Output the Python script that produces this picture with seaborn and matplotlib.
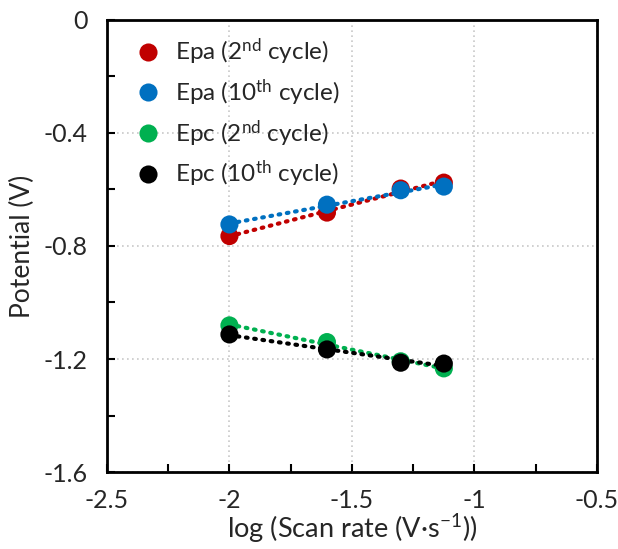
import numpy as np
import pandas as pd
import seaborn as sns
import matplotlib.pyplot as plt

sns.set_theme(style='white')
plt.rcParams['font.family'] = ['Lato', 'DejaVu Sans']
plt.rcParams['mathtext.fontset'] = 'custom'
plt.rcParams['mathtext.rm'] = 'Lato'
plt.rcParams['mathtext.it'] = 'Lato'
plt.rcParams['mathtext.default'] = 'rm'

# log(scan rate) and peak potentials
log_rate = [-2.0, -1.602, -1.301, -1.125]
epa_2nd = [-0.765, -0.682, -0.597, -0.576]
epa_10th = [-0.724, -0.654, -0.603, -0.590]
epc_2nd = [-1.081, -1.140, -1.208, -1.233]
epc_10th = [-1.113, -1.166, -1.213, -1.216]

labels = ['Epa (2$^{nd}$ cycle)', 'Epa (10$^{th}$ cycle)',
          'Epc (2$^{nd}$ cycle)', 'Epc (10$^{th}$ cycle)']
colors = ['#C00000', '#0070C0', '#00B050', '#000000']

df = pd.concat([
    pd.DataFrame({'x': log_rate, 'y': ys, 'series': lab})
    for ys, lab in zip([epa_2nd, epa_10th, epc_2nd, epc_10th], labels)
])

fig = plt.figure(figsize=(6.18, 5.49), dpi=100)
ax = fig.add_axes([0.173, 0.140, 0.793, 0.824])

# dotted linear trend lines
for lab, col in zip(labels, colors):
    sub = df[df.series == lab]
    sns.regplot(data=sub, x='x', y='y', ax=ax, scatter=False, ci=None,
                truncate=True, color=col,
                line_kws=dict(linestyle=(0, (0.4, 1.6)), linewidth=3,
                              dash_capstyle='round'))

sns.scatterplot(data=df, x='x', y='y', hue='series', palette=colors,
                hue_order=labels, s=170, edgecolor='none', ax=ax, zorder=3)

ax.set_xlim(-2.5, -0.5)
ax.set_ylim(-1.6, 0)
ax.set_xticks([-2.5, -2, -1.5, -1, -0.5])
ax.set_xticklabels(['-2.5', '-2', '-1.5', '-1', '-0.5'])
ax.set_yticks([0, -0.4, -0.8, -1.2, -1.6])
ax.set_yticklabels(['0', '-0.4', '-0.8', '-1.2', '-1.6'])
ax.set_xticks([-2.25, -1.75, -1.25, -0.75], minor=True)
ax.set_yticks([-0.2, -0.6, -1.0, -1.4], minor=True)
ax.tick_params(which='both', direction='in', length=6, width=1.5,
               color='black', labelsize=18, bottom=True, left=True,
               top=False, right=False)
ax.tick_params(axis='y', pad=14)
ax.tick_params(axis='x', pad=12)
ax.grid(True, which='major', color='#C8C8C8', linestyle=(0, (1, 2)),
        linewidth=1.2)
for sp in ax.spines.values():
    sp.set_color('black')
    sp.set_linewidth(2)

ax.set_xlabel('log (Scan rate (V·s$^{-1}$))', fontsize=19.5, labelpad=0)
ax.set_ylabel('Potential (V)', fontsize=19, labelpad=6)

leg = ax.legend(loc='upper left', bbox_to_anchor=(0.0, 1.0), frameon=False,
                fontsize=17.5, handletextpad=0.1, labelspacing=0.42,
                markerscale=1.0, borderaxespad=0.3)

fig.savefig('out.png', dpi=100)
